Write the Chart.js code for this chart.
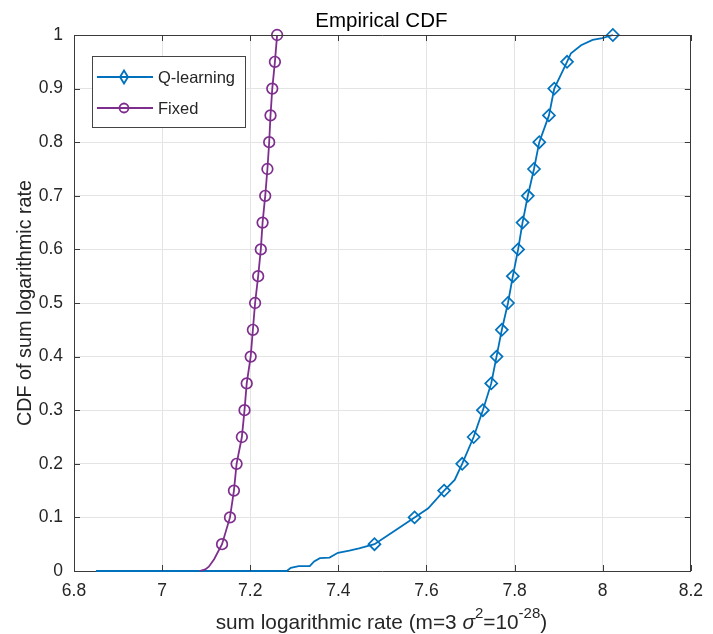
<!DOCTYPE html>
<html>
<head>
<meta charset="utf-8">
<title>Empirical CDF</title>
<script src="https://cdn.jsdelivr.net/npm/chart.js@4.4.1/dist/chart.umd.min.js"></script>
<style>
    html, body { margin: 0; padding: 0; background: #fff; }
    #wrap { width: 713px; height: 634px; }
</style>
</head>
<body>
<div id="wrap"><canvas id="cdfChart" width="713" height="634"></canvas></div>
<script>
// ---- data ----
const xTickValues = [6.8, 7.0, 7.2, 7.4, 7.6, 7.8, 8.0, 8.2];
const yTickValues = [0, 0.1, 0.2, 0.3, 0.4, 0.5, 0.6, 0.7, 0.8, 0.9, 1];

// CDF levels where markers are shown
const cdfLevels = [0.05, 0.10, 0.15, 0.20, 0.25, 0.30, 0.35, 0.40, 0.45, 0.50,
                   0.55, 0.60, 0.65, 0.70, 0.75, 0.80, 0.85, 0.90, 0.95, 1.00];
const qMarkerRate = [7.482, 7.573, 7.640, 7.681, 7.707, 7.728, 7.747, 7.759, 7.771, 7.785,
                     7.796, 7.808, 7.818, 7.830, 7.844, 7.856, 7.878, 7.890, 7.919, 8.023];
const fixedMarkerRate = [7.136, 7.154, 7.163, 7.169, 7.181, 7.187, 7.192, 7.201, 7.206, 7.211,
                         7.218, 7.224, 7.228, 7.234, 7.239, 7.243, 7.246, 7.250, 7.256, 7.261];

// full empirical curves
const qCurveRate = [6.850, 7.283, 7.292, 7.310, 7.335, 7.345, 7.358, 7.380, 7.399, 7.425,
                    7.447, 7.482, 7.522, 7.573, 7.604, 7.640, 7.664, 7.681, 7.707, 7.728,
                    7.747, 7.759, 7.771, 7.785, 7.796, 7.808, 7.818, 7.830, 7.844, 7.856,
                    7.878, 7.890, 7.919, 7.928, 7.951, 7.977, 7.999, 8.023];
const qCurveCdf = [0, 0, 0.006, 0.009, 0.009, 0.018, 0.024, 0.025, 0.034, 0.038,
                   0.042, 0.05, 0.072, 0.10, 0.117, 0.15, 0.17, 0.20, 0.25, 0.30,
                   0.35, 0.40, 0.45, 0.50, 0.55, 0.60, 0.65, 0.70, 0.75, 0.80,
                   0.85, 0.90, 0.95, 0.966, 0.981, 0.991, 0.994, 1.0];
const fixedCurveRate = [7.085, 7.098, 7.106, 7.118, 7.136, 7.154, 7.163, 7.169, 7.181, 7.187,
                        7.192, 7.201, 7.206, 7.211, 7.218, 7.224, 7.228, 7.234, 7.239, 7.243,
                        7.246, 7.250, 7.256, 7.261];
const fixedCurveCdf = [0, 0.003, 0.008, 0.022, 0.05, 0.10, 0.15, 0.20, 0.25, 0.30,
                       0.35, 0.40, 0.45, 0.50, 0.55, 0.60, 0.65, 0.70, 0.75, 0.80,
                       0.85, 0.90, 0.95, 1.0];

const seriesNames = ['Q-learning', 'Fixed'];

// ---- styling ----
const BLUE = '#0072BD';
const PURPLE = '#7E2F8E';
const AXIS_COLOR = '#3a3a3a';
const GRID_COLOR = '#e4e4e4';
const TEXT_COLOR = '#262626';
const FONT = '"Liberation Sans", Arial, sans-serif';

function toPoints(xs, ys) {
    return xs.map((v, i) => ({ x: v, y: ys[i] }));
}

function fmtTick(v) {
    return String(Number(v.toFixed(1)));
}

function drawDiamond(ctx, cx, cy, hw, hh) {
    ctx.beginPath();
    ctx.moveTo(cx, cy - hh);
    ctx.lineTo(cx + hw, cy);
    ctx.lineTo(cx, cy + hh);
    ctx.lineTo(cx - hw, cy);
    ctx.closePath();
    ctx.stroke();
}

// MATLAB-like frame: box, inward ticks, title, axis labels, legend
const matlabFrame = {
    id: 'matlabFrame',
    afterDraw(chart) {
        const { ctx, chartArea: a, scales: { x, y } } = chart;
        ctx.save();

        // box top + right
        ctx.strokeStyle = AXIS_COLOR;
        ctx.lineWidth = 1;
        ctx.beginPath();
        ctx.moveTo(a.left, Math.round(a.top) + 0.5);
        ctx.lineTo(a.right, Math.round(a.top) + 0.5);
        ctx.moveTo(Math.round(a.right) - 0.5, a.top);
        ctx.lineTo(Math.round(a.right) - 0.5, a.bottom);
        ctx.stroke();

        // inward ticks on all four sides
        const tl = 6;
        ctx.beginPath();
        xTickValues.forEach(v => {
            const px = Math.round(x.getPixelForValue(v)) + 0.5;
            ctx.moveTo(px, a.bottom); ctx.lineTo(px, a.bottom - tl);
            ctx.moveTo(px, a.top); ctx.lineTo(px, a.top + tl);
        });
        yTickValues.forEach(v => {
            const py = Math.round(y.getPixelForValue(v)) + 0.5;
            ctx.moveTo(a.left, py); ctx.lineTo(a.left + tl, py);
            ctx.moveTo(a.right, py); ctx.lineTo(a.right - tl, py);
        });
        ctx.stroke();

        // title
        const cx = (a.left + a.right) / 2;
        ctx.fillStyle = '#000';
        ctx.textAlign = 'center';
        ctx.textBaseline = 'alphabetic';
        ctx.font = `20.5px ${FONT}`;
        ctx.fillText('Empirical CDF', cx - 1, 27);

        // y label
        ctx.save();
        ctx.fillStyle = TEXT_COLOR;
        ctx.translate(26, (a.top + a.bottom) / 2);
        ctx.rotate(-Math.PI / 2);
        ctx.textBaseline = 'middle';
        ctx.font = `19.8px ${FONT}`;
        ctx.fillText('CDF of sum logarithmic rate', 0, 0);
        ctx.restore();

        // x label with sigma and superscripts
        const pieces = [
            { t: 'sum logarithmic rate (m=3 ', f: `20.8px ${FONT}`, dy: 0 },
            { t: 'σ', f: `italic 20.8px ${FONT}`, dy: 0 },
            { t: '2', f: `15px ${FONT}`, dy: -11 },
            { t: '=10', f: `20.8px ${FONT}`, dy: 0 },
            { t: '-28', f: `15px ${FONT}`, dy: -11 },
            { t: ')', f: `20.8px ${FONT}`, dy: 0 }
        ];
        let total = 0;
        pieces.forEach(p => { ctx.font = p.f; p.w = ctx.measureText(p.t).width; total += p.w; });
        let px = cx - 1 - total / 2;
        ctx.textAlign = 'left';
        ctx.textBaseline = 'alphabetic';
        ctx.fillStyle = TEXT_COLOR;
        pieces.forEach(p => {
            ctx.font = p.f;
            ctx.fillText(p.t, px, 629 + p.dy);
            px += p.w;
        });

        // legend
        const lx = a.left + 18, ly = a.top + 21;
        ctx.fillStyle = '#fff';
        ctx.fillRect(lx, ly, 154, 72);
        ctx.strokeStyle = '#444';
        ctx.lineWidth = 1;
        ctx.strokeRect(lx + 0.5, ly + 0.5, 153, 71);
        const rows = [
            { name: seriesNames[0], color: BLUE, y: ly + 21, marker: 'diamond' },
            { name: seriesNames[1], color: PURPLE, y: ly + 52, marker: 'circle' }
        ];
        ctx.font = `16.5px ${FONT}`;
        ctx.textBaseline = 'middle';
        rows.forEach(r => {
            ctx.strokeStyle = r.color;
            ctx.lineWidth = 1.8;
            ctx.beginPath();
            ctx.moveTo(lx + 5, r.y);
            ctx.lineTo(lx + 61, r.y);
            ctx.stroke();
            if (r.marker === 'diamond') {
                drawDiamond(ctx, lx + 32, r.y, 4, 6.5);
            } else {
                ctx.beginPath();
                ctx.arc(lx + 32, r.y, 4.5, 0, Math.PI * 2);
                ctx.stroke();
            }
            ctx.fillStyle = TEXT_COLOR;
            ctx.fillText(r.name, lx + 66, r.y + 1);
        });

        ctx.restore();
    }
};

const ctxCdf = document.getElementById('cdfChart').getContext('2d');
new Chart(ctxCdf, {
    type: 'line',
    data: {
        datasets: [
            {
                label: 'Fixed markers',
                data: toPoints(fixedMarkerRate, cdfLevels),
                showLine: false,
                pointStyle: 'circle',
                pointRadius: 5.3,
                pointBorderColor: PURPLE,
                pointBackgroundColor: 'rgba(0,0,0,0)',
                pointBorderWidth: 1.7,
                clip: false,
                order: 0
            },
            {
                label: seriesNames[1],
                data: toPoints(fixedCurveRate, fixedCurveCdf),
                borderColor: PURPLE,
                borderWidth: 1.8,
                pointRadius: 0,
                tension: 0,
                clip: false,
                order: 1
            },
            {
                label: 'Q-learning markers',
                data: toPoints(qMarkerRate, cdfLevels),
                showLine: false,
                pointStyle: 'rectRot',
                pointRadius: 6,
                pointBorderColor: BLUE,
                pointBackgroundColor: 'rgba(0,0,0,0)',
                pointBorderWidth: 1.7,
                clip: false,
                order: 2
            },
            {
                label: seriesNames[0],
                data: toPoints(qCurveRate, qCurveCdf),
                borderColor: BLUE,
                borderWidth: 1.8,
                pointRadius: 0,
                tension: 0,
                clip: false,
                order: 3
            }
        ]
    },
    options: {
        responsive: false,
        animation: false,
        events: [],
        layout: { padding: { left: 0, right: 13, top: 35, bottom: 0 } },
        plugins: {
            legend: { display: false },
            title: { display: false },
            tooltip: { enabled: false }
        },
        scales: {
            x: {
                type: 'linear',
                min: 6.8,
                max: 8.2,
                afterFit: s => { s.height = 63; },
                afterBuildTicks: s => { s.ticks = xTickValues.map(v => ({ value: v })); },
                grid: { color: GRID_COLOR, drawTicks: false },
                border: { display: true, color: AXIS_COLOR, width: 1 },
                ticks: {
                    padding: 10,
                    color: TEXT_COLOR,
                    font: { family: FONT, size: 17.5 },
                    maxRotation: 0,
                    autoSkip: false,
                    callback: v => fmtTick(v)
                }
            },
            y: {
                type: 'linear',
                min: 0,
                max: 1,
                afterFit: s => { s.width = 74; },
                afterBuildTicks: s => { s.ticks = yTickValues.map(v => ({ value: v })); },
                grid: { color: GRID_COLOR, drawTicks: false },
                border: { display: true, color: AXIS_COLOR, width: 1 },
                ticks: {
                    padding: 11,
                    color: TEXT_COLOR,
                    font: { family: FONT, size: 17.5 },
                    autoSkip: false,
                    callback: v => fmtTick(v)
                }
            }
        }
    },
    plugins: [matlabFrame]
});
</script>
</body>
</html>
